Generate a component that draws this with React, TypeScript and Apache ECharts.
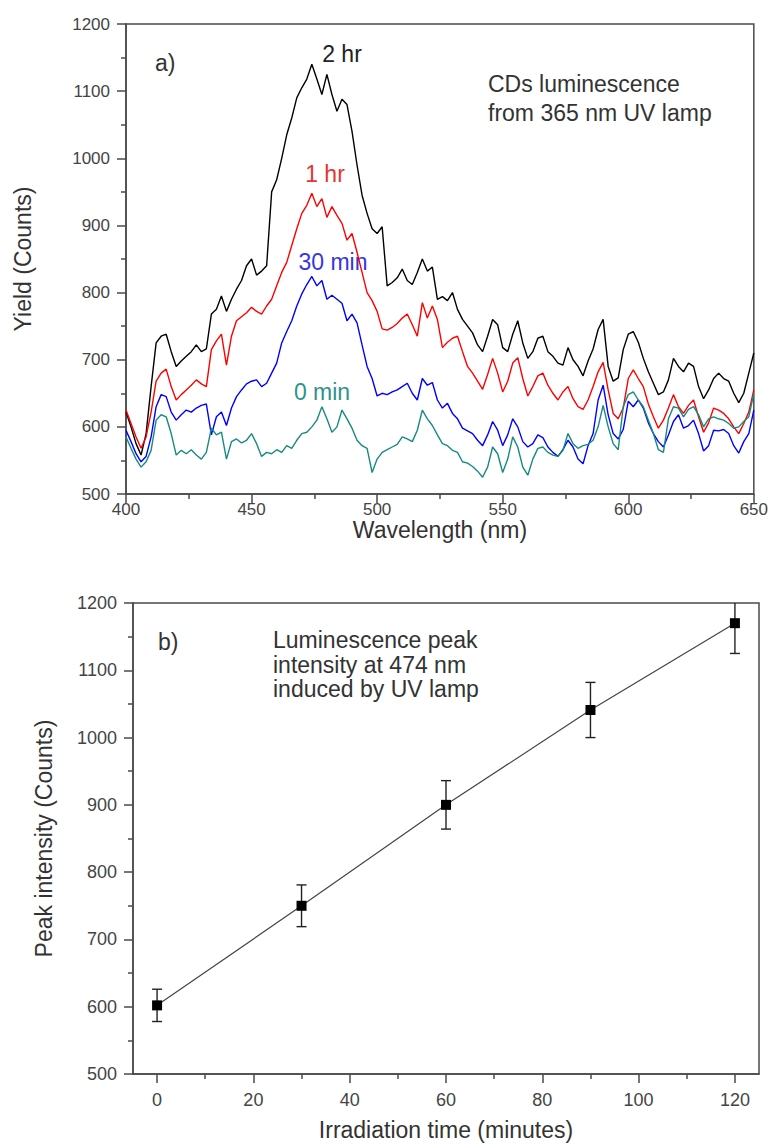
import React, { useEffect, useRef } from "react";
import * as echarts from "echarts";

// ---------- Panel a) : luminescence spectra (2 nm grid, 400–650 nm) ----------
const wavelengths: number[] = [];
for (let w = 400; w <= 650; w += 2) wavelengths.push(w);

const yield2hr = [
  622, 600, 575, 558, 590, 660, 725, 735, 738, 712,
  690, 698, 705, 712, 722, 712, 716, 768, 775, 795,
  772, 790, 805, 818, 840, 850, 826, 832, 840, 950,
  968, 1000, 1035, 1060, 1090, 1105, 1118, 1140, 1118, 1095,
  1125, 1095, 1070, 1088, 1080, 1040, 990, 945, 918, 895,
  888, 898, 810, 815, 822, 835, 818, 812, 830, 850,
  832, 838, 790, 794, 788, 800, 775, 760, 750, 740,
  722, 712, 735, 760, 752, 718, 712, 738, 758, 725,
  702, 712, 732, 735, 712, 705, 695, 692, 718, 700,
  690, 676, 698, 716, 745, 760, 690, 668, 673, 715,
  738, 742, 726, 702, 682, 665, 648, 652, 670, 702,
  690, 682, 695, 690, 660, 642, 655, 672, 680, 672,
  668, 650, 636, 650, 680, 710,
];

const yield1hr = [
  625, 605, 585, 568, 585, 622, 668, 680, 686, 660,
  640, 648, 655, 662, 670, 664, 660, 715, 728, 738,
  692, 735, 758, 764, 770, 778, 772, 768, 780, 790,
  810, 830, 845, 870, 895, 918, 930, 948, 928, 940,
  912, 928, 915, 903, 878, 888, 860, 830, 800, 788,
  772, 746, 744, 748, 754, 762, 768, 752, 735, 785,
  762, 780, 760, 718, 726, 732, 735, 712, 690, 680,
  668, 656, 678, 702, 680, 652, 668, 695, 703, 672,
  646, 660, 676, 680, 662, 650, 640, 652, 660, 642,
  630, 626, 640, 660, 682, 696, 655, 620, 612, 628,
  672, 685, 672, 660, 634, 615, 598, 610, 628, 648,
  630, 620, 632, 640, 615, 592, 606, 628, 625, 620,
  612, 600, 590, 605, 622, 655,
];

const yield30min = [
  595, 578, 560, 548, 556, 585, 630, 648, 645, 622,
  610, 618, 625, 622, 628, 632, 634, 588, 615, 622,
  602, 628, 645, 655, 664, 668, 670, 660, 665, 680,
  695, 725, 742, 758, 780, 798, 812, 824, 810, 818,
  790, 796, 790, 784, 758, 768, 755, 722, 690, 672,
  646, 650, 648, 652, 655, 660, 665, 650, 640, 672,
  662, 666, 640, 628, 635, 620, 612, 598, 594, 590,
  580, 572, 588, 608, 595, 572, 588, 612, 600, 578,
  570, 575, 588, 584, 570, 562, 556, 566, 580, 570,
  552, 545, 572, 590, 640, 662, 618, 590, 582, 596,
  638, 630, 640, 628, 606, 590, 578, 570, 588, 608,
  618, 598, 602, 610, 590, 564, 572, 595, 594, 596,
  590, 572, 561, 578, 590, 625,
];

const yield0min = [
  585, 568, 552, 540, 548, 565, 610, 618, 615, 590,
  558, 565, 560, 566, 558, 552, 562, 598, 588, 592,
  552, 578, 582, 576, 580, 590, 575, 556, 562, 560,
  566, 562, 572, 568, 580, 590, 592, 600, 610, 630,
  612, 592, 600, 625, 612, 598, 580, 572, 568, 532,
  552, 562, 566, 570, 574, 585, 582, 578, 595, 625,
  612, 602, 588, 575, 572, 565, 562, 548, 546, 541,
  534, 525, 540, 570, 560, 532, 552, 585, 570, 540,
  528, 552, 568, 570, 562, 558, 556, 565, 590, 575,
  568, 572, 574, 580, 600, 632, 600, 575, 566, 630,
  648, 652, 640, 630, 610, 590, 566, 562, 612, 630,
  628, 615, 626, 630, 618, 600, 612, 615, 612, 610,
  605, 598, 600, 608, 615, 650,
];

// ---------- Panel b) : peak intensity vs irradiation time ----------
const times = [0, 30, 60, 90, 120];
const peakIntensity = [602, 750, 900, 1041, 1170];
const peakError = [24, 31, 36, 41, 45];
const timeMajorTicks = [0, 20, 40, 60, 80, 100, 120];
const timeMinorTicks = [10, 30, 50, 70, 90, 110];

const FONT = "'Liberation Sans', Arial, sans-serif";
const AXIS = "#4a4a4a";
const LABEL = "#444";
const NAME = "#333";

const pair = (arr: number[]) => wavelengths.map((w, i) => [w, arr[i]]);
const plain = (v: number) => String(v);

export default function App() {
  const ref = useRef<HTMLDivElement>(null);

  useEffect(() => {
    document.body.style.margin = "0";
    const chart = echarts.init(ref.current!, null, { renderer: "svg" });

    const line = { color: AXIS, width: 1.5 };

    const option: any = {
      animation: false,
      backgroundColor: "#fff",
      textStyle: { fontFamily: FONT },
      grid: [
        { left: 126, top: 24, width: 629, height: 470, show: true, borderColor: AXIS, borderWidth: 1.5, backgroundColor: "transparent" },
        { left: 133, top: 603, width: 626, height: 471, show: true, borderColor: AXIS, borderWidth: 1.5, backgroundColor: "transparent" },
      ],
      xAxis: [
        {
          gridIndex: 0, type: "value", min: 400, max: 650, interval: 50, position: "bottom",
          axisLine: { show: true, onZero: false, lineStyle: line },
          axisTick: { show: true, length: 9, lineStyle: line },
          minorTick: { show: true, splitNumber: 2, length: 5, lineStyle: line },
          splitLine: { show: false },
          axisLabel: { color: LABEL, fontSize: 17, margin: 7, fontFamily: FONT, formatter: plain },
          name: "Wavelength (nm)", nameLocation: "middle", nameGap: 13,
          nameTextStyle: { fontSize: 23, color: NAME, fontFamily: FONT },
        },
        {
          gridIndex: 1, type: "value", min: -5, max: 125, position: "bottom",
          axisLine: { show: true, onZero: false, lineStyle: line },
          axisTick: { show: true, length: 9, lineStyle: line, customValues: timeMajorTicks },
          splitLine: { show: false },
          axisLabel: { color: LABEL, fontSize: 18, margin: 17, fontFamily: FONT, customValues: timeMajorTicks, formatter: plain },
          name: "Irradiation time (minutes)", nameLocation: "middle", nameGap: 44,
          nameTextStyle: { fontSize: 23, color: NAME, fontFamily: FONT },
        },
        {
          gridIndex: 1, type: "value", min: -5, max: 125, position: "bottom",
          axisLine: { show: false, onZero: false },
          axisTick: { show: true, length: 5, lineStyle: line, customValues: timeMinorTicks },
          axisLabel: { show: false },
          splitLine: { show: false },
        },
      ],
      yAxis: [
        {
          gridIndex: 0, type: "value", min: 500, max: 1200, interval: 100,
          axisLine: { show: true, onZero: false, lineStyle: line },
          axisTick: { show: true, length: 9, lineStyle: line },
          minorTick: { show: true, splitNumber: 2, length: 5, lineStyle: line },
          splitLine: { show: false },
          axisLabel: { color: LABEL, fontSize: 17, margin: 16, fontFamily: FONT, formatter: plain },
          name: "Yield (Counts)", nameLocation: "middle", nameGap: 92,
          nameTextStyle: { fontSize: 23, color: NAME, fontFamily: FONT },
        },
        {
          gridIndex: 1, type: "value", min: 500, max: 1200, interval: 100,
          axisLine: { show: true, onZero: false, lineStyle: line },
          axisTick: { show: true, length: 9, lineStyle: line },
          minorTick: { show: true, splitNumber: 2, length: 5, lineStyle: line },
          splitLine: { show: false },
          axisLabel: { color: LABEL, fontSize: 18, margin: 16, fontFamily: FONT, formatter: plain },
          name: "Peak intensity (Counts)", nameLocation: "middle", nameGap: 78,
          nameTextStyle: { fontSize: 23, color: NAME, fontFamily: FONT },
        },
      ],
      series: [
        { name: "2 hr", type: "line", xAxisIndex: 0, yAxisIndex: 0, data: pair(yield2hr), showSymbol: false, lineStyle: { color: "#000000", width: 1.4 } },
        { name: "1 hr", type: "line", xAxisIndex: 0, yAxisIndex: 0, data: pair(yield1hr), showSymbol: false, lineStyle: { color: "#ff0000", width: 1.4 } },
        { name: "30 min", type: "line", xAxisIndex: 0, yAxisIndex: 0, data: pair(yield30min), showSymbol: false, lineStyle: { color: "#0000ff", width: 1.4 } },
        { name: "0 min", type: "line", xAxisIndex: 0, yAxisIndex: 0, data: pair(yield0min), showSymbol: false, lineStyle: { color: "#178a80", width: 1.4 } },
        {
          name: "Peak", type: "line", xAxisIndex: 1, yAxisIndex: 1,
          data: times.map((t, i) => [t, peakIntensity[i]]),
          symbol: "rect", symbolSize: 10,
          itemStyle: { color: "#000" },
          lineStyle: { color: "#444", width: 1.2 },
          z: 4,
        },
        {
          name: "Error", type: "custom", xAxisIndex: 1, yAxisIndex: 1, clip: true,
          data: times.map((t, i) => [t, peakIntensity[i] - peakError[i], peakIntensity[i] + peakError[i]]),
          encode: { x: 0, y: [1, 2] },
          renderItem: (params: any, api: any) => {
            const x = api.value(0);
            const lo = api.coord([x, api.value(1)]);
            const hi = api.coord([x, api.value(2)]);
            const hw = 5;
            const st = { stroke: "#222", lineWidth: 1.4 };
            return {
              type: "group",
              children: [
                { type: "line", shape: { x1: lo[0], y1: lo[1], x2: hi[0], y2: hi[1] }, style: st },
                { type: "line", shape: { x1: lo[0] - hw, y1: lo[1], x2: lo[0] + hw, y2: lo[1] }, style: st },
                { type: "line", shape: { x1: hi[0] - hw, y1: hi[1], x2: hi[0] + hw, y2: hi[1] }, style: st },
              ],
            };
          },
          z: 3,
        },
      ],
      graphic: [
        { type: "text", x: 155, y: 63, style: { text: "a)", font: `23px ${FONT}`, fill: NAME, align: "left", verticalAlign: "middle" } },
        { type: "text", x: 342, y: 54, style: { text: "2 hr", font: `23px ${FONT}`, fill: "#222", align: "center", verticalAlign: "middle" } },
        { type: "text", x: 325, y: 174, style: { text: "1 hr", font: `23px ${FONT}`, fill: "#e83434", align: "center", verticalAlign: "middle" } },
        { type: "text", x: 333, y: 262, style: { text: "30 min", font: `23px ${FONT}`, fill: "#3636e0", align: "center", verticalAlign: "middle" } },
        { type: "text", x: 322, y: 392, style: { text: "0 min", font: `23px ${FONT}`, fill: "#2e948a", align: "center", verticalAlign: "middle" } },
        { type: "text", x: 488, y: 84, style: { text: "CDs luminescence", font: `23px ${FONT}`, fill: NAME, align: "left", verticalAlign: "middle" } },
        { type: "text", x: 488, y: 113, style: { text: "from 365 nm UV lamp", font: `23px ${FONT}`, fill: NAME, align: "left", verticalAlign: "middle" } },
        { type: "text", x: 158, y: 642, style: { text: "b)", font: `23px ${FONT}`, fill: NAME, align: "left", verticalAlign: "middle" } },
        { type: "text", x: 273, y: 640, style: { text: "Luminescence peak", font: `23px ${FONT}`, fill: NAME, align: "left", verticalAlign: "middle" } },
        { type: "text", x: 273, y: 665, style: { text: "intensity at 474 nm", font: `23px ${FONT}`, fill: NAME, align: "left", verticalAlign: "middle" } },
        { type: "text", x: 273, y: 689, style: { text: "induced by UV lamp", font: `23px ${FONT}`, fill: NAME, align: "left", verticalAlign: "middle" } },
      ],
    };

    chart.setOption(option);
    return () => chart.dispose();
  }, []);

  return <div ref={ref} style={{ width: 771, height: 1146, background: "#fff" }} />;
}
